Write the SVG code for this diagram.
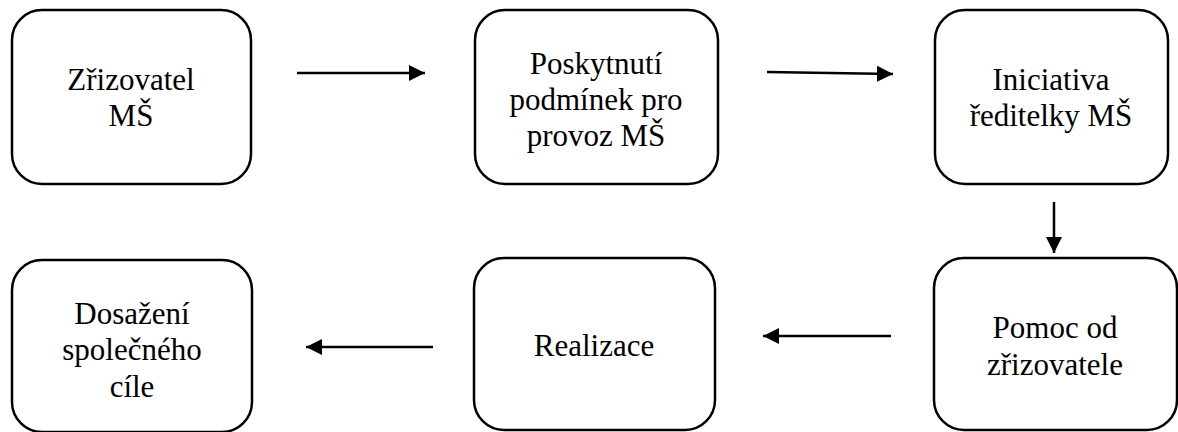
<svg xmlns="http://www.w3.org/2000/svg" width="1178" height="432" viewBox="0 0 1178 432">
  <style>
    .box { fill: #ffffff; stroke: #000000; stroke-width: 2.5; }
    .lbl { font-size: 31px; fill: #000000; text-anchor: middle; }
    .conn { stroke: #000000; stroke-width: 2.5; fill: none; marker-end: url(#head); }
  </style>
  <defs>
    <marker id="head" markerUnits="userSpaceOnUse" markerWidth="16" markerHeight="16" viewBox="0 0 16 16" refX="16" refY="8" orient="auto">
      <path d="M0,0 L16,8 L0,16 Z" fill="#000000"/>
    </marker>
  </defs>
  <rect width="1178" height="432" fill="#ffffff"/>

  <g id="connectors">
    <line class="conn" x1="297" y1="73" x2="425" y2="73"/>
    <line class="conn" x1="767" y1="72" x2="893" y2="74"/>
    <line class="conn" x1="1054" y1="202" x2="1054" y2="253"/>
    <line class="conn" x1="891" y1="336" x2="763" y2="336"/>
    <line class="conn" x1="433" y1="347" x2="306" y2="347"/>
  </g>

  <g font-family="Liberation Serif, DejaVu Serif, serif">
    <g id="node-zrizovatel">
      <rect class="box" x="12" y="10" width="239" height="174" rx="30"/>
      <text class="lbl" x="131" y="90">Zřizovatel</text>
      <text class="lbl" x="131" y="126">MŠ</text>
    </g>

    <g id="node-poskytnuti">
      <rect class="box" x="475" y="10" width="243" height="174" rx="30"/>
      <text class="lbl" x="596" y="74">Poskytnutí</text>
      <text class="lbl" x="596" y="110">podmínek pro</text>
      <text class="lbl" x="596" y="146">provoz MŠ</text>
    </g>

    <g id="node-iniciativa">
      <rect class="box" x="935" y="10" width="233" height="174" rx="30"/>
      <text class="lbl" x="1051" y="90">Iniciativa</text>
      <text class="lbl" x="1051" y="126">ředitelky MŠ</text>
    </g>

    <g id="node-pomoc">
      <rect class="box" x="934" y="258" width="243" height="172" rx="30"/>
      <text class="lbl" x="1055" y="338">Pomoc od</text>
      <text class="lbl" x="1055" y="375">zřizovatele</text>
    </g>

    <g id="node-realizace">
      <rect class="box" x="474" y="258" width="241" height="172" rx="30"/>
      <text class="lbl" x="594" y="356">Realizace</text>
    </g>

    <g id="node-dosazeni">
      <rect class="box" x="12" y="260" width="240" height="172" rx="30"/>
      <text class="lbl" x="132" y="324">Dosažení</text>
      <text class="lbl" x="132" y="360">společného</text>
      <text class="lbl" x="132" y="397">cíle</text>
    </g>
  </g>
</svg>
